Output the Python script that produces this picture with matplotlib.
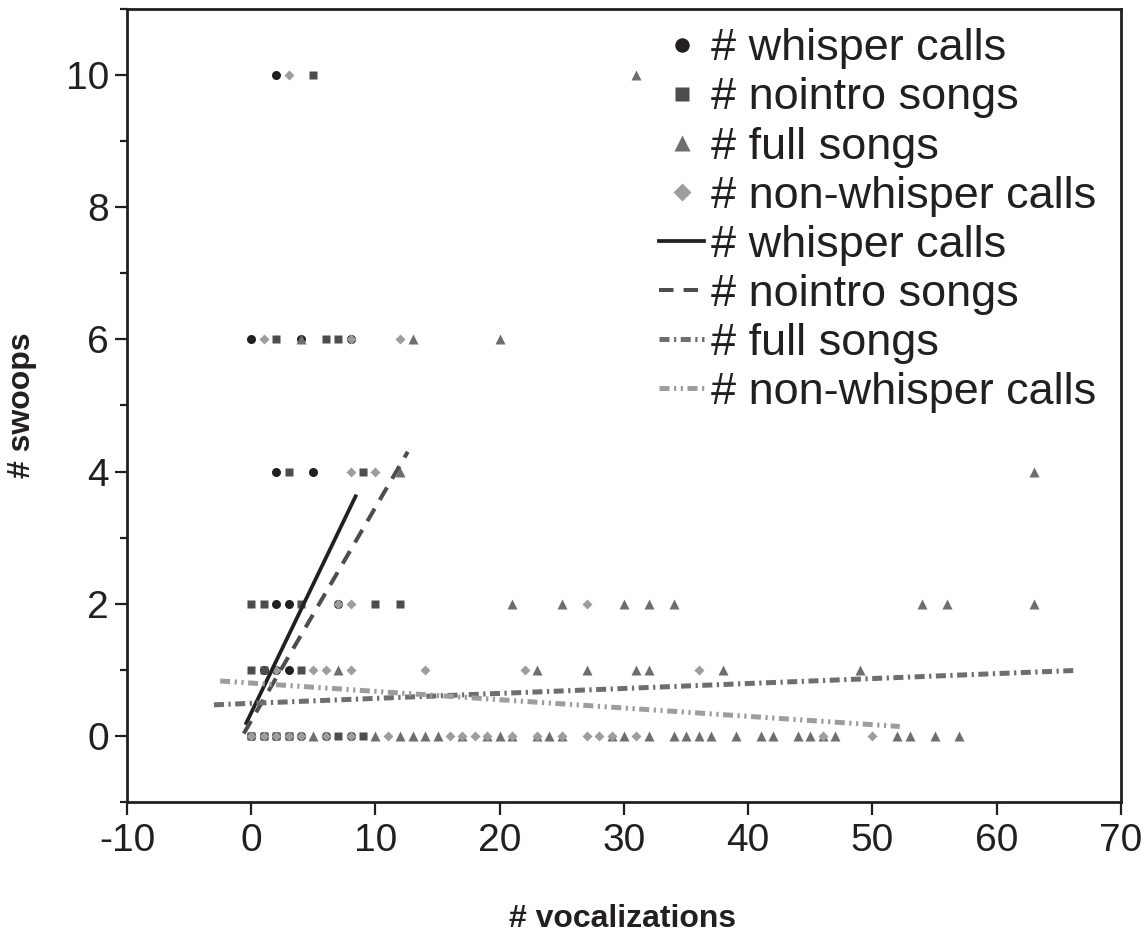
import numpy as np
import matplotlib
matplotlib.use("Agg")
import matplotlib.pyplot as plt
from matplotlib.ticker import MultipleLocator

plt.rcParams['font.family'] = ['Liberation Sans', 'DejaVu Sans']
plt.rcParams['axes.unicode_minus'] = False

# scatter data: (x = # vocalizations, y = # swoops)
whisper_x = [2, 0, 4, 8, 2, 5, 2, 3, 7, 1, 2, 3, 0, 1, 2, 3, 4, 6, 8]
whisper_y = [10, 6, 6, 6, 4, 4, 2, 2, 2, 1, 1, 1, 0, 0, 0, 0, 0, 0, 0]

nointro_x = [5, 2, 6, 7, 3, 9, 0, 1, 4, 10, 12, 0, 1, 4, 0, 1, 2, 3, 7, 9]
nointro_y = [10, 6, 6, 6, 4, 4, 2, 2, 2, 2, 2, 1, 1, 1, 0, 0, 0, 0, 0, 0]

full_x = [31, 4, 13, 20, 12, 63,
          21, 25, 30, 32, 34, 54, 56, 63,
          7, 23, 27, 31, 32, 38, 49,
          5, 10, 12, 13, 14, 15, 17, 19, 20, 21, 23, 24, 25, 29, 30, 32,
          34, 35, 36, 37, 39, 41, 42, 44, 45, 46, 47, 52, 53, 55, 57]
full_y = [10, 6, 6, 6, 4, 4,
          2, 2, 2, 2, 2, 2, 2, 2,
          1, 1, 1, 1, 1, 1, 1,
          0, 0, 0, 0, 0, 0, 0, 0, 0, 0, 0, 0, 0, 0, 0, 0,
          0, 0, 0, 0, 0, 0, 0, 0, 0, 0, 0, 0, 0, 0, 0]

nonwhisper_x = [3, 1, 8, 12, 8, 10, 7, 8, 27,
                2, 5, 6, 8, 14, 22, 36,
                0, 1, 2, 3, 4, 6, 8, 11, 16, 17, 18, 19, 21, 23, 25, 27,
                28, 29, 31, 46, 50]
nonwhisper_y = [10, 6, 6, 6, 4, 4, 2, 2, 2,
                1, 1, 1, 1, 1, 1, 1,
                0, 0, 0, 0, 0, 0, 0, 0, 0, 0, 0, 0, 0, 0, 0, 0,
                0, 0, 0, 0, 0]

# linear fits: intercept, slope, x range
whisper_fit = (0.35, 0.39, -0.4, 8.4)
nointro_fit = (0.23, 0.323, -0.6, 12.6)
full_fit = (0.493, 0.0075, -3.0, 66.2)
nonwhisper_fit = (0.80, -0.0126, -2.5, 52.2)

labels = ["# whisper calls", "# nointro songs", "# full songs", "# non-whisper calls"]

c_black = "#231f20"
c_dark = "#4d4d4f"
c_mid = "#6d6e70"
c_light = "#9d9d9f"

fig = plt.figure(figsize=(11.45, 9.38), dpi=100)
ax = fig.add_axes([0.1109, 0.145, 0.8681, 0.8454])

ax.plot(whisper_x, whisper_y, 'o', ms=6.5, color=c_black, mec='none', label=labels[0])
ax.plot(nointro_x, nointro_y, 's', ms=6, color=c_dark, mec='none', label=labels[1])
ax.plot(full_x, full_y, '^', ms=7, color=c_mid, mec='none', label=labels[2])
ax.plot(nonwhisper_x, nonwhisper_y, 'D', ms=5.5, color=c_light, mec='none', label=labels[3])


def fit_line(fit):
    b, m, x0, x1 = fit
    xs = np.array([x0, x1])
    return xs, b + m * xs


xs, ys = fit_line(whisper_fit)
ax.plot(xs, ys, '-', color=c_black, lw=2.7, label=labels[0])
xs, ys = fit_line(nointro_fit)
ax.plot(xs, ys, color=c_dark, lw=2.9, ls=(0, (3.6, 2.5)), label=labels[1])
xs, ys = fit_line(full_fit)
ax.plot(xs, ys, color=c_mid, lw=3.6, ls=(0, (2.0, 0.9, 0.45, 0.9)), label=labels[2])
xs, ys = fit_line(nonwhisper_fit)
ax.plot(xs, ys, color=c_light, lw=3.6, ls=(0, (2.0, 0.9, 0.45, 0.9, 0.45, 0.9)), label=labels[3])

ax.set_xlim(-10, 70)
ax.set_ylim(-1, 11)
ax.set_xticks(range(-10, 71, 10))
ax.set_yticks(range(0, 11, 2))
ax.yaxis.set_minor_locator(MultipleLocator(1))

for s in ax.spines.values():
    s.set_linewidth(2.0)
    s.set_color(c_black)
ax.tick_params(axis='both', which='major', direction='out', length=9, width=1.6,
               labelsize=28, colors=c_black)
ax.tick_params(axis='y', which='minor', direction='out', length=5, width=1.6, color=c_black)
ax.tick_params(axis='y', pad=4)
ax.tick_params(axis='x', pad=6)

ax.set_xlabel("# vocalizations", fontsize=23, fontweight='bold', color=c_black, va='center')
ax.set_ylabel("# swoops", fontsize=23, fontweight='bold', color=c_black, va='center')
ax.xaxis.set_label_coords(0.499, -0.147)
ax.yaxis.set_label_coords(-0.106, 0.50)

leg = ax.legend(loc='upper right', bbox_to_anchor=(0.998, 1.004), frameon=False,
                fontsize=32.4, handlelength=1.0, handletextpad=0.15, labelspacing=0.18,
                borderpad=0, markerscale=1.6)
for t in leg.get_texts():
    t.set_color(c_black)

fig.savefig("out.png", dpi=100)
